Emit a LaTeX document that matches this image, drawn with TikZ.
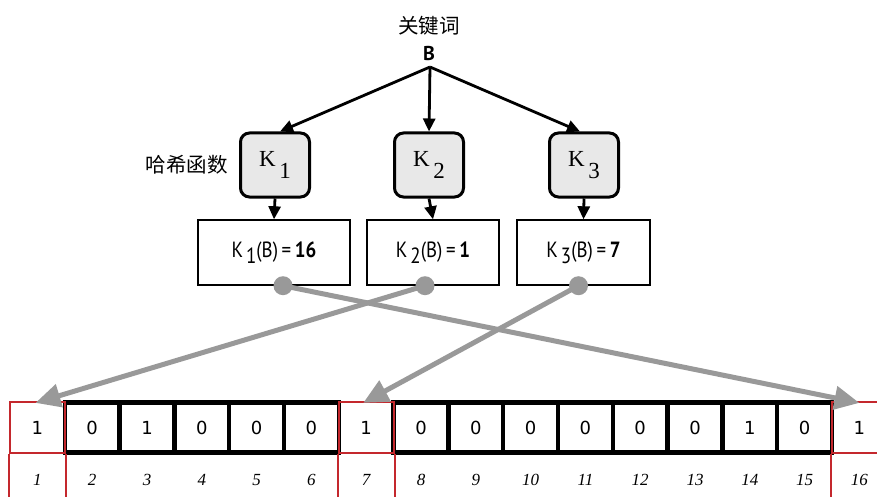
\documentclass[tikz,border=0pt]{standalone}
\usepackage{fontspec}
\setmainfont{Liberation Serif}
\setsansfont{PT Sans}
\newfontfamily\cjk{Noto Sans CJK SC}
\newfontfamily\narrowsans[FakeStretch=0.86]{PT Sans}
\newfontfamily\cellfont{DejaVu Sans}
\usetikzlibrary{arrows.meta,calc}
\definecolor{redline}{RGB}{196,40,45}
\tikzset{
  kbox/.style={draw, line width=3pt, rounded corners=9pt, fill=black!9, minimum width=69pt, minimum height=64pt, inner sep=0pt},
  vbox/.style={draw, line width=1.4pt, minimum width=152pt, minimum height=65pt, inner sep=0pt, font=\narrowsans\fontsize{22}{24}\selectfont},
  barr/.style={line width=2.8pt, -{Triangle[length=13pt,width=12pt]}},
  garr/.style={draw=black!40, line width=5pt, -{Triangle[length=25pt,width=23pt]}},
  gdot/.style={circle, fill=black!40, minimum size=19pt, inner sep=0pt},
  bcell/.style={draw, line width=4.4pt, minimum width=54.8pt, minimum height=50pt, inner sep=0pt, font=\cellfont\fontsize{18}{20}\selectfont},
  rcell/.style={draw=redline, line width=2.2pt, minimum width=54.8pt, minimum height=51pt, inner sep=0pt, font=\cellfont\fontsize{18}{20}\selectfont},
  idx/.style={font=\itshape\fontsize{17}{19}\selectfont},
  lbl/.style={font=\cjk\fontsize{20.5}{22}\selectfont, inner sep=0pt},
  kfont/.style={font=\fontsize{23}{25}\selectfont}
}
\begin{document}
\begin{tikzpicture}[x=1pt,y=-1pt]
\useasboundingbox (0,0) rectangle (877,497);
\begin{scope}
\clip (0,0) rectangle (877,497);
% top labels
\node[lbl] (kw) at (429,26) {关键词};
\node[inner sep=0pt, font=\sffamily\bfseries\fontsize{20}{22}\selectfont] (b) at (429,53.5) {B};
\coordinate (bo) at (430,67);
% hash function boxes
\node[kbox, kfont] (k1) at (275,165) {\raisebox{5pt}{K\raisebox{-12pt}{\,1}}};
\node[kbox, kfont] (k2) at (429,165) {\raisebox{5pt}{K\raisebox{-12pt}{\,2}}};
\node[kbox, kfont] (k3) at (584,165) {\raisebox{5pt}{K\raisebox{-12pt}{\,3}}};
\node[lbl, anchor=east] (hf) at (228,165) {哈希函数};
\draw[barr] (bo) -- ([xshift=5pt]k1.north);
\draw[barr] (bo) -- (k2.north);
\draw[barr] (bo) -- ([xshift=-4pt]k3.north);
% value boxes
\node[vbox] (v1) at (274,252.5) {K\hspace{3pt}\raisebox{-6pt}{1}(B)\,=\,\textbf{16}};
\node[vbox, minimum width=132pt] (v2) at (433,252.5) {K\hspace{3pt}\raisebox{-6pt}{2}(B)\,=\,\textbf{1}};
\node[vbox, minimum width=133pt] (v3) at (583.5,252.5) {K\hspace{3pt}\raisebox{-6pt}{3}(B)\,=\,\textbf{7}};
\draw[barr] (k1.south) -- (v1.north);
\draw[barr] (k2.south) -- (v2.north);
\draw[barr] (k3.south) -- (v3.north);
% bit array
\foreach \i/\v in {2/0,3/1,4/0,5/0,6/0,8/0,9/0,10/0,11/0,12/0,13/0,14/1,15/0}{
  \node[bcell] (c\i) at ({10+(\i-1)*54.8+27.4},427.5) {\v};
}
\foreach \i in {1,7,16}{
  \node[rcell] (c\i) at ({10+(\i-1)*54.8+27.4},427.5) {1};
  \draw[draw=redline, line width=1.6pt] (c\i.south west) -- ++(0,50);
  \draw[draw=redline, line width=1.6pt] (c\i.south east) -- ++(0,50);
}
\foreach \i in {1,...,16}{
  \node[idx] (n\i) at ({10+(\i-1)*54.8+27.4},480) {\i};
}
% mapping arrows
\node[gdot] (d1) at ([xshift=9pt]v1.south) {};
\node[gdot] (d2) at ([xshift=-8pt]v2.south) {};
\node[gdot] (d3) at ([xshift=-5pt]v3.south) {};
\draw[garr] (d1.center) -- ([yshift=-2pt]c16.north);
\draw[garr] (d2.center) -- ([xshift=-2pt,yshift=-2pt]c1.north);
\draw[garr] (d3.center) -- ([xshift=-3pt,yshift=-2pt]c7.north);
\end{scope}
\end{tikzpicture}
\end{document}
